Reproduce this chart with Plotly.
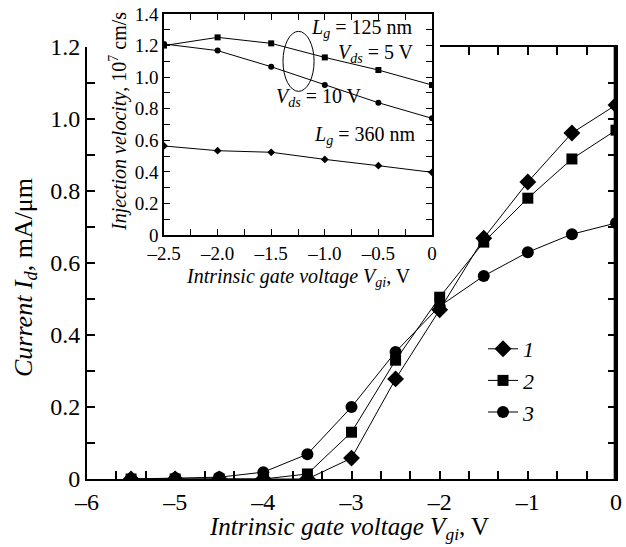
import plotly.graph_objects as go

# ---------------- data ----------------
vgi_main = [-5.5, -5.0, -4.5, -4.0, -3.5, -3.0, -2.5, -2.0, -1.5, -1.0, -0.5, 0.0]
id_1 = [0.0, 0.0, 0.0, 0.0, 0.0, 0.058, 0.278, 0.47, 0.669, 0.825, 0.961, 1.039]
id_2 = [0.0, 0.0, 0.0, 0.0, 0.014, 0.13, 0.33, 0.505, 0.658, 0.78, 0.889, 0.969]
id_3 = [0.0, 0.003, 0.005, 0.019, 0.069, 0.2, 0.353, 0.48, 0.564, 0.63, 0.68, 0.711]
series_names = ["1", "2", "3"]

vgi_inset = [-2.5, -2.0, -1.5, -1.0, -0.5, 0.0]
v_125_5V = [1.20, 1.252, 1.214, 1.125, 1.045, 0.95]
v_125_10V = [1.21, 1.168, 1.066, 0.95, 0.838, 0.739]
v_360 = [0.564, 0.534, 0.524, 0.479, 0.439, 0.397]

main_x_ticks = [-6, -5, -4, -3, -2, -1, 0]
main_x_text = ["–6", "–5", "–4", "–3", "–2", "–1", "0"]
main_y_ticks = [0, 0.2, 0.4, 0.6, 0.8, 1.0, 1.2]
main_y_text = ["0", "0.2", "0.4", "0.6", "0.8", "1.0", "1.2"]
top_tick_vals = [-5/3, -4/3, -1, -2/3, -1/3]

inset_x_ticks = [-2.5, -2.0, -1.5, -1.0, -0.5, 0.0]
inset_x_text = ["–2.5", "–2.0", "–1.5", "–1.0", "–0.5", "0"]
inset_y_ticks = [0, 0.2, 0.4, 0.6, 0.8, 1.0, 1.2, 1.4]
inset_y_text = ["0", "0.2", "0.4", "0.6", "0.8", "1.0", "1.2", "1.4"]

FONT = "Liberation Serif"
W, H = 626, 547
ML, MR, MT, MB = 87, 10, 14, 68
PW, PH = W - ML - MR, H - MT - MB


def px_x(p):
    return (p - ML) / PW


def px_y(p):
    return (H - MB - p) / PH


fig = go.Figure()

symbols = ["diamond", "square", "circle"]
sizes = [13, 11, 12]
for name, ys, sym, sz in zip(series_names, [id_1, id_2, id_3], symbols, sizes):
    fig.add_trace(go.Scatter(
        x=vgi_main, y=ys, mode="lines+markers", name=f"<i>{name}</i>",
        line=dict(color="black", width=1),
        marker=dict(symbol=sym, size=sz, color="black"),
        xaxis="x", yaxis="y"))

# dummy traces creating the partial top axis and the right axis of the main plot
fig.add_trace(go.Scatter(x=[None], y=[None], xaxis="x3", yaxis="y",
                         showlegend=False, hoverinfo="skip"))
fig.add_trace(go.Scatter(x=[None], y=[None], xaxis="x", yaxis="y3",
                         showlegend=False, hoverinfo="skip"))

inset_sets = [(v_125_5V, "square", 6), (v_125_10V, "circle", 6), (v_360, "diamond", 6)]
for ys, sym, sz in inset_sets:
    fig.add_trace(go.Scatter(
        x=vgi_inset, y=ys, mode="lines+markers", showlegend=False,
        line=dict(color="black", width=1),
        marker=dict(symbol=sym, size=sz, color="black"),
        xaxis="x2", yaxis="y2"))

main_y_top = px_y(47)
inset_xd = [px_x(164), px_x(432)]
inset_yd = [px_y(235), px_y(14)]
top_axis_start = -2.0
top_xd = [(top_axis_start + 6) / 6, 1.0]

tick_font = dict(family=FONT, size=24, color="black")
inset_tick_font = dict(family=FONT, size=19, color="black")
tick_style = dict(ticks="inside", ticklen=8, tickwidth=1.5, tickcolor="black")
inset_tick_style = dict(ticks="inside", ticklen=6, tickwidth=1.2, tickcolor="black")

fig.update_layout(
    width=W, height=H,
    margin=dict(l=ML, r=MR, t=MT, b=MB, autoexpand=False),
    paper_bgcolor="white", plot_bgcolor="rgba(0,0,0,0)",
    font=dict(family=FONT, color="black"),
    xaxis=dict(domain=[0, 1], range=[-6, 0], anchor="y",
               tickmode="array", tickvals=main_x_ticks, ticktext=main_x_text,
               minor=dict(dtick=1/3, tick0=0, **tick_style), **tick_style,
               showline=True, linewidth=2, linecolor="black", mirror=False,
               showgrid=False, zeroline=False, tickfont=tick_font, automargin=False),
    yaxis=dict(domain=[0, main_y_top], range=[0, 1.2], anchor="x",
               tickmode="array", tickvals=main_y_ticks, ticktext=main_y_text,
               minor=dict(dtick=0.1, **tick_style), **tick_style,
               showline=True, linewidth=2, linecolor="black", mirror=False,
               showgrid=False, zeroline=False, tickfont=tick_font, automargin=False),
    yaxis3=dict(overlaying="y", side="right", anchor="x", range=[0, 1.2],
                tickmode="array", tickvals=main_y_ticks,
                minor=dict(dtick=0.1, **tick_style), **tick_style,
                showticklabels=False, showline=True, linewidth=2, linecolor="black",
                showgrid=False, zeroline=False, automargin=False),
    xaxis3=dict(domain=top_xd, side="top", anchor="y", range=[top_axis_start, 0],
                tickmode="array", tickvals=top_tick_vals, **tick_style,
                showticklabels=False, showline=True, linewidth=2, linecolor="black",
                showgrid=False, zeroline=False, automargin=False),
    xaxis2=dict(domain=inset_xd, range=[-2.5, 0], anchor="y2",
                tickmode="array", tickvals=inset_x_ticks, ticktext=inset_x_text,
                minor=dict(dtick=0.25, tick0=0, **inset_tick_style), **inset_tick_style,
                showline=True, linewidth=1.5, linecolor="black", mirror="ticks",
                showgrid=False, zeroline=False, tickfont=inset_tick_font, automargin=False),
    yaxis2=dict(domain=inset_yd, range=[0, 1.4], anchor="x2",
                tickmode="array", tickvals=inset_y_ticks, ticktext=inset_y_text,
                minor=dict(dtick=0.1, **inset_tick_style), **inset_tick_style,
                showline=True, linewidth=1.5, linecolor="black", mirror="ticks",
                showgrid=False, zeroline=False, tickfont=inset_tick_font, automargin=False),
    legend=dict(x=px_x(483), y=px_y(328), xanchor="left", yanchor="top",
                bgcolor="rgba(0,0,0,0)", font=dict(family=FONT, size=22, color="black"),
                tracegroupgap=0, itemwidth=30),
    showlegend=True,
)

# right frame line of the main plot (slightly inside the edge so it is always painted)
fig.add_shape(type="line", xref="paper", yref="y domain", x0=0.998, x1=0.998, y0=0, y1=1,
              line=dict(color="black", width=2.5), layer="above")

# ellipse in inset
fig.add_shape(type="circle", xref="x2", yref="y2", x0=-1.39, x1=-1.10, y0=0.91, y1=1.29,
              line=dict(color="black", width=1))

ann_font = dict(family=FONT, size=20, color="black")
inset_labels = [
    (-0.66, 1.31, "<i>L</i><sub><i>g</i></sub> = 125 nm"),
    (-0.52, 1.15, "<i>V</i><sub><i>ds</i></sub> = 5 V"),
    (-1.05, 0.87, "<i>V</i><sub><i>ds</i></sub> = 10 V"),
    (-0.63, 0.63, "<i>L</i><sub><i>g</i></sub> = 360 nm"),
]
for ax_, ay_, txt in inset_labels:
    fig.add_annotation(x=ax_, y=ay_, xref="x2", yref="y2", text=txt, showarrow=False,
                       font=ann_font, xanchor="center", yanchor="middle")

# axis titles
fig.add_annotation(x=px_x(349), y=px_y(528), xref="paper", yref="paper",
                   text="<i>Intrinsic gate voltage V</i><sub><i>gi</i></sub>, V",
                   showarrow=False, font=dict(family=FONT, size=25, color="black"),
                   xanchor="center", yanchor="middle")
fig.add_annotation(x=px_x(25), y=px_y(278), xref="paper", yref="paper",
                   text="<i>Current I</i><sub><i>d</i></sub>, mA/μm", textangle=-90,
                   showarrow=False, font=dict(family=FONT, size=26, color="black"),
                   xanchor="center", yanchor="middle")
fig.add_annotation(x=(inset_xd[0] + inset_xd[1]) / 2, y=px_y(277), xref="paper", yref="paper",
                   text="<i>Intrinsic gate voltage V</i><sub><i>gi</i></sub>, V",
                   showarrow=False, font=dict(family=FONT, size=20, color="black"),
                   xanchor="center", yanchor="middle")
fig.add_annotation(x=px_x(118), y=px_y(122), xref="paper", yref="paper",
                   text="<i>Injection velocity</i>, 10<sup>7</sup> cm/s", textangle=-90,
                   showarrow=False, font=dict(family=FONT, size=20, color="black"),
                   xanchor="center", yanchor="middle")

fig.write_html("out.html",
               config={"displayModeBar": False},
               post_script="document.documentElement.style.overflow='hidden';document.body.style.margin='0';document.body.style.padding='0';document.body.style.overflow='hidden';")
